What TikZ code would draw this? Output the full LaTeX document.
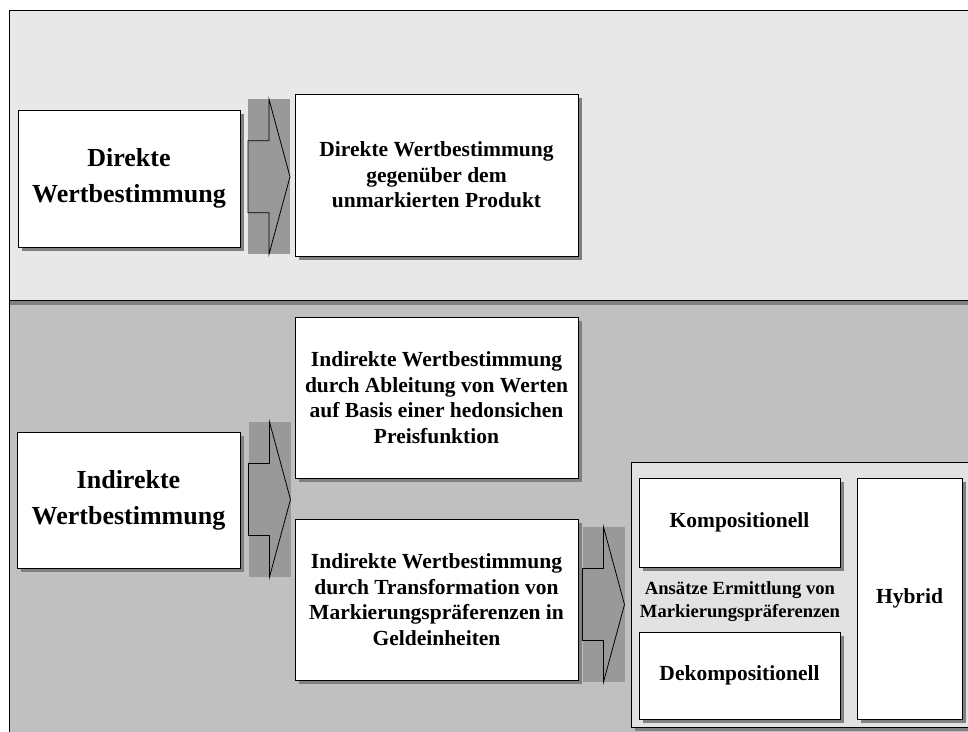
\documentclass[tikz,border=0pt]{standalone}
\usepackage{fontspec}
\setmainfont{Liberation Serif}
\usetikzlibrary{shadows,calc}
\definecolor{topbg}{HTML}{E8E8E8}
\definecolor{botbg}{HTML}{C0C0C0}
\definecolor{contbg}{HTML}{E2E2E2}
\definecolor{shadowgray}{HTML}{808080}
\definecolor{arrowgray}{HTML}{999999}
\tikzset{
  box/.style={draw=black, line width=1pt, fill=white, inner sep=0pt, align=center,
    drop shadow={shadow xshift=4pt, shadow yshift=-4pt, fill=shadowgray, opacity=1}},
  bigtext/.style={font=\bfseries\fontsize{26}{36}\selectfont},
  midtext/.style={font=\bfseries\fontsize{21.5}{25.5}\selectfont},
  smalltext/.style={font=\bfseries\fontsize{18.6}{23}\selectfont},
  blockarrow/.pic={
    \fill[arrowgray] (-21,-77.5) rectangle (21,77.5);
    \draw[line width=0.8pt, line join=miter] (0,-77.5) -- (21,0) -- (0,77.5) -- (0,36) -- (-21,36) -- (-21,-36) -- (0,-36) -- cycle;
  }
}
\begin{document}
\begin{tikzpicture}[x=1pt, y=-1pt]
\useasboundingbox (0,0) rectangle (968,731);
\clip (0,0) rectangle (968,731);
% panels
\fill[botbg] (9.5,300) rectangle (990,760);
\draw[line width=1pt] (9.5,300) -- (9.5,760);
\fill[shadowgray] (9.5,300) rectangle (990,305);
\fill[topbg] (9.5,10) rectangle (990,300);
\draw[line width=1pt] (990,10) -- (9.5,10) -- (9.5,300) -- (990,300);
% top row
\node[box, bigtext, minimum width=222pt, minimum height=137pt] (dw) at (129,178.5) {Direkte\\Wertbestimmung};
\node[box, midtext, minimum width=283pt, minimum height=162pt] (dwp) at (436.5,175) {Direkte Wertbestimmung\\gegenüber dem\\unmarkierten Produkt};
\pic at ($(dw.east)!0.5!(dwp.west)+(1.5,0)$) {blockarrow};
% bottom row
\node[box, bigtext, minimum width=223pt, minimum height=136pt] (iw) at (128.5,500) {Indirekte\\Wertbestimmung};
\node[box, midtext, minimum width=283pt, minimum height=161pt] (ip) at (436.5,397.5) {Indirekte Wertbestimmung\\durch Ableitung von Werten\\auf Basis einer hedonsichen\\Preisfunktion};
\node[box, midtext, minimum width=283pt, minimum height=161pt] (it) at (436.5,599.5) {Indirekte Wertbestimmung\\durch Transformation von\\Markierungspräferenzen in\\Geldeinheiten};
\pic at ($(iw.east)+(29,-0.5)$) {blockarrow};
% container
\node[draw=black, line width=1pt, fill=contbg, inner sep=0pt, minimum width=344pt, minimum height=265pt,
  drop shadow={shadow xshift=4pt, shadow yshift=-4pt, fill=shadowgray, opacity=1}] (cont) at (803,594.5) {};
\pic at ($(it.east)+(25,5)$) {blockarrow};
\node[box, midtext, minimum width=201pt, minimum height=89pt] (komp) at (739.5,522.5) {Kompositionell};
\node[box, midtext, minimum width=201pt, minimum height=87pt] (dekomp) at (739.5,675.5) {Dekompositionell};
\node[box, midtext, minimum width=105pt, minimum height=241pt] (hyb) at (909.5,598.5) {Hybrid};
\node[smalltext, align=center, inner sep=0pt] (ans) at (740,602) {Ansätze Ermittlung von\\Markierungspräferenzen};
\end{tikzpicture}
\end{document}
